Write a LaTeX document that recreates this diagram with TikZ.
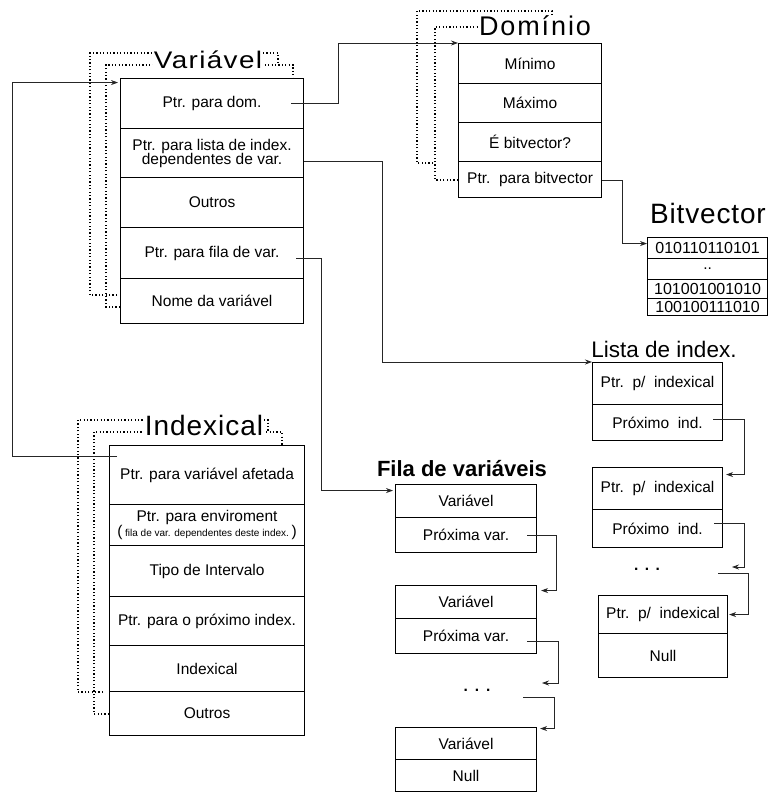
\documentclass[tikz,border=0pt]{standalone}
\usepackage{fontspec}
\usepackage{graphicx}
\setmainfont{Liberation Sans}
\usetikzlibrary{arrows.meta}
\newcommand\bodyfont{\fontsize{15.5pt}{16pt}\selectfont}
\newcommand\rowcell[6]{\node[rowbox, minimum width=#4pt, minimum height=#5pt] (#1) at (#2,#3) {#6};}
\tikzset{
  rowbox/.style={draw=black, line width=1.1pt, anchor=north west, inner sep=0pt, align=center, font=\bodyfont, text=black},
  conn/.style={line width=0.8pt, draw=black!85, -{Stealth[length=7pt,width=5pt]}},
  dotframe/.style={line width=1.2pt, dash pattern=on 1.2pt off 2.2pt},
  titlebox/.style={fill=white, inner sep=0.5pt, anchor=base, text=black},
  elli/.style={font=\bodyfont\bfseries, anchor=base, inner sep=0pt}
}
\begin{document}
\begin{tikzpicture}[x=1pt,y=-1pt]
\useasboundingbox (0,0) rectangle (769,792);
\fill[white] (0,0) rectangle (769,792);

% stacked-record dotted frames
\draw[dotframe] (117,295) -- (90,295) -- (90,53) -- (278,53) -- (278,65);
\draw[dotframe] (120,307) -- (106,307) -- (106,65) -- (293,65) -- (293,78);
\draw[dotframe] (433,163) -- (417,163) -- (417,11) -- (552,11) -- (552,20);
\draw[dotframe] (458,180) -- (435,180) -- (435,27) -- (478,27);
\draw[dotframe] (103,692) -- (78,692) -- (78,420) -- (268,420) -- (268,432);
\draw[dotframe] (109,714) -- (94,714) -- (94,432) -- (282,432) -- (282,445);

% titles
\node[titlebox, font={\fontsize{24pt}{28pt}\selectfont}] (tvar) at (208,69) {\scalebox{1.16}[1]{\addfontfeature{LetterSpace=5}Variável}};
\node[titlebox, font={\fontsize{27pt}{30pt}\selectfont\addfontfeature{LetterSpace=7}}] (tdom) at (535,36) {Domínio};
\node[titlebox, font={\fontsize{28pt}{30pt}\selectfont\addfontfeature{LetterSpace=3}}] (tbit) at (708,223) {Bitvector};
\node[titlebox, font={\fontsize{22.5pt}{26pt}\selectfont}] (tlist) at (664,357) {Lista de index.};
\node[titlebox, font={\fontsize{28pt}{30pt}\selectfont\addfontfeature{LetterSpace=3.5}}] (tidx) at (204,435) {Indexical};
\node[titlebox, font={\fontsize{22pt}{26pt}\selectfont\bfseries}] (tfila) at (462,476) {Fila de variáveis};

% Variavel record
\rowcell{v1}{120}{78}{183}{50}{Ptr. para dom.}
\rowcell{v2}{120}{128}{183}{49}{Ptr. para lista de index.\\[-2pt]dependentes de var.}
\rowcell{v3}{120}{177}{183}{50}{Outros}
\rowcell{v4}{120}{227}{183}{51}{Ptr. para fila de var.}
\rowcell{v5}{120}{278}{183}{45}{Nome da variável}

% Dominio record
\rowcell{d1}{458}{43}{143}{40}{Mínimo}
\rowcell{d2}{458}{83}{143}{39}{Máximo}
\rowcell{d3}{458}{122}{143}{39}{É bitvector?}
\rowcell{d4}{458}{161}{143}{36}{Ptr.\ \ para bitvector}

% Bitvector
\rowcell{b1}{647}{237}{120}{21}{{\fontsize{16pt}{16pt}\selectfont 010110110101}}
\rowcell{b2}{647}{258}{120}{21}{..}
\rowcell{b3}{647}{279}{120}{19}{{\fontsize{16pt}{16pt}\selectfont 101001001010}}
\rowcell{b4}{647}{298}{120}{17}{{\fontsize{16pt}{16pt}\selectfont 100100111010}}

% Lista de index.
\rowcell{l1a}{592}{362}{130}{42}{Ptr.\ \ p/\ \ indexical}
\rowcell{l1b}{592}{404}{130}{36}{Próximo\ \ ind.}
\rowcell{l2a}{592}{467}{130}{42}{Ptr.\ \ p/\ \ indexical}
\rowcell{l2b}{592}{509}{130}{38}{Próximo\ \ ind.}
\rowcell{l3a}{598}{595}{129}{38}{Ptr.\ \ p/\ \ indexical}
\rowcell{l3b}{598}{633}{129}{44}{Null}
\node[elli] (ldots) at (647,570) {.\hspace{6.5pt}.\hspace{6.5pt}.};

% Indexical record
\rowcell{i1}{109}{445}{195}{59}{Ptr. para variável afetada}
\rowcell{i2}{109}{504}{195}{41}{Ptr. para enviroment\\[-1pt](\,{\fontsize{10pt}{10pt}\selectfont fila de var. dependentes deste index.}\,)}
\rowcell{i3}{109}{545}{195}{51}{Tipo de Intervalo}
\rowcell{i4}{109}{596}{195}{49}{Ptr. para o próximo index.}
\rowcell{i5}{109}{645}{195}{46}{Indexical}
\rowcell{i6}{109}{691}{195}{44}{Outros}

% Fila de variaveis
\rowcell{f1a}{395}{484}{141}{33}{Variável}
\rowcell{f1b}{395}{517}{141}{35}{Próxima var.}
\rowcell{f2a}{395}{585}{141}{33}{Variável}
\rowcell{f2b}{395}{618}{141}{35}{Próxima var.}
\rowcell{f3a}{395}{727}{141}{32}{Variável}
\rowcell{f3b}{395}{759}{141}{32}{Null}
\node[elli] (fdots) at (477,691) {.\hspace{7pt}.\hspace{7pt}.};

% free ends
\coordinate (lA) at (732,567);
\coordinate (lB) at (718,573);
\coordinate (fA) at (542,683);
\coordinate (fB) at (523,697);

% connectors
\draw[conn] ([xshift=-13pt]v1.east) -- ++(47,0) |- (d1.north west);
\draw[conn] ([yshift=-8.5pt]v2.east) -- ++(78,0) |- (l1a.north west);
\draw[conn] ([xshift=-8pt,yshift=-5.5pt]v4.east) -- ++(25,0) |- ([xshift=-2pt,yshift=10.5pt]f1a.west);
\draw[conn] ([xshift=8pt,yshift=18.5pt]i1.west) -- ++(-105,0) |- ([xshift=-2pt,yshift=21pt]v1.west);
\draw[conn] ([yshift=-1pt]d4.east) -- ++(20,0) |- ([yshift=4.5pt]b1.west);

\draw[conn] ([xshift=-10pt,yshift=3pt]l1b.east) -- ++(31,0) |- ([xshift=3pt,yshift=14pt]l2a.east);
\draw[conn] ([xshift=-9pt,yshift=5pt]l2b.east) -- ++(30,0) |- (lA);
\draw[conn] (lB) -- ++(30,0) |- ([xshift=1pt]l3a.east);

\draw[conn] ([xshift=-10pt]f1b.east) -- ++(29,0) |- ([xshift=4pt,yshift=11.5pt]f2a.east);
\draw[conn] ([xshift=-10pt,yshift=-5pt]f2b.east) -- ++(31,0) |- (fA);
\draw[conn] (fB) -- ++(31,0) |- ([xshift=3pt,yshift=15pt]f3a.east);
\end{tikzpicture}
\end{document}
